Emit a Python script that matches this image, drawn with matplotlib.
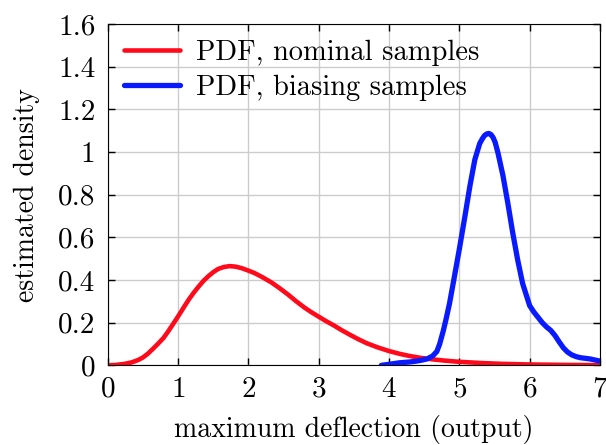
import matplotlib
matplotlib.use('Agg')
import matplotlib.pyplot as plt

plt.rcParams['font.family'] = 'serif'
plt.rcParams['font.serif'] = ['cmr10', 'DejaVu Serif']
plt.rcParams['mathtext.fontset'] = 'cm'
plt.rcParams['axes.formatter.use_mathtext'] = True
plt.rc('font', size=20)

# nominal samples pdf
x_nom = [0.0, 0.12, 0.24, 0.34, 0.43, 0.5, 0.57, 0.64, 0.71, 0.79, 0.86, 0.93, 1.0,
         1.08, 1.15, 1.22, 1.29, 1.36, 1.43, 1.5, 1.57, 1.65, 1.73, 1.81, 1.9, 2.0,
         2.09, 2.2, 2.33, 2.45, 2.57, 2.68, 2.8, 2.9, 3.0, 3.1, 3.21, 3.32, 3.44,
         3.56, 3.68, 3.84, 4.0, 4.15, 4.29, 4.45, 4.62, 4.8, 4.98, 5.3, 5.6, 6.0,
         6.5, 7.0]
y_nom = [0.0, 0.002, 0.007, 0.014, 0.025, 0.037, 0.055, 0.077, 0.1, 0.128, 0.16, 0.195, 0.23,
         0.272, 0.308, 0.34, 0.369, 0.396, 0.418, 0.437, 0.452, 0.461, 0.465, 0.463, 0.456, 0.444,
         0.432, 0.413, 0.388, 0.36, 0.33, 0.30, 0.27, 0.248, 0.228, 0.208, 0.188, 0.166, 0.144,
         0.123, 0.104, 0.084, 0.067, 0.054, 0.044, 0.035, 0.028, 0.022, 0.017, 0.011, 0.007, 0.004,
         0.002, 0.001]

# biasing samples pdf
x_bias = [3.89, 4.0, 4.15, 4.3, 4.39, 4.46, 4.54, 4.62, 4.68, 4.72, 4.77, 4.81, 4.86,
          4.91, 5.0, 5.08, 5.15, 5.22, 5.29, 5.33, 5.36, 5.39, 5.42, 5.45, 5.48, 5.51,
          5.55, 5.62, 5.69, 5.76, 5.83, 5.9, 6.0, 6.06, 6.12, 6.18, 6.24, 6.3, 6.36,
          6.42, 6.48, 6.54, 6.6, 6.66, 6.72, 6.86, 7.0]
y_bias = [0.0, 0.005, 0.012, 0.016, 0.02, 0.024, 0.03, 0.044, 0.065, 0.10, 0.16, 0.215, 0.29,
          0.38, 0.545, 0.70, 0.84, 0.964, 1.04, 1.064, 1.078, 1.085, 1.087, 1.082, 1.068, 1.045,
          0.995, 0.89, 0.76, 0.62, 0.494, 0.384, 0.28, 0.25, 0.225, 0.2, 0.18, 0.164, 0.14,
          0.11, 0.082, 0.062, 0.049, 0.041, 0.036, 0.03, 0.02]

x_ticks = [0, 1, 2, 3, 4, 5, 6, 7]
y_ticks = [0, 0.2, 0.4, 0.6, 0.8, 1.0, 1.2, 1.4, 1.6]
y_tick_labels = ['0', '0.2', '0.4', '0.6', '0.8', '1', '1.2', '1.4', '1.6']

fig = plt.figure(figsize=(6.06, 4.45), dpi=100)
ax = fig.add_axes([0.178, 0.179, 0.812, 0.767])

ax.plot(x_nom, y_nom, color='#ff0a1a', linewidth=3.3, solid_joinstyle='round',
        solid_capstyle='round', label='PDF, nominal samples')
ax.plot(x_bias, y_bias, color='#0a1aff', linewidth=3.8, solid_joinstyle='round',
        solid_capstyle='round', label='PDF, biasing samples')

ax.set_xlim(0, 7)
ax.set_ylim(0, 1.6)
ax.set_xticks(x_ticks)
ax.set_yticks(y_ticks)
ax.set_yticklabels(y_tick_labels)
ax.grid(True, color='#cccccc', linewidth=1)
ax.set_axisbelow(True)
ax.tick_params(direction='in', top=True, right=True, length=5, width=1, labelsize=21)
ax.tick_params(axis='y', pad=9)
ax.tick_params(axis='x', pad=8)
ax.set_xlabel('maximum deflection (output)', labelpad=9)
ax.set_ylabel('estimated density', labelpad=13)

ax.legend(loc='upper left', frameon=False, handlelength=2.0, handletextpad=0.55,
          borderaxespad=0.15, borderpad=0.4, labelspacing=0.32, fontsize=20.5)

plt.savefig('out.png', dpi=100)
